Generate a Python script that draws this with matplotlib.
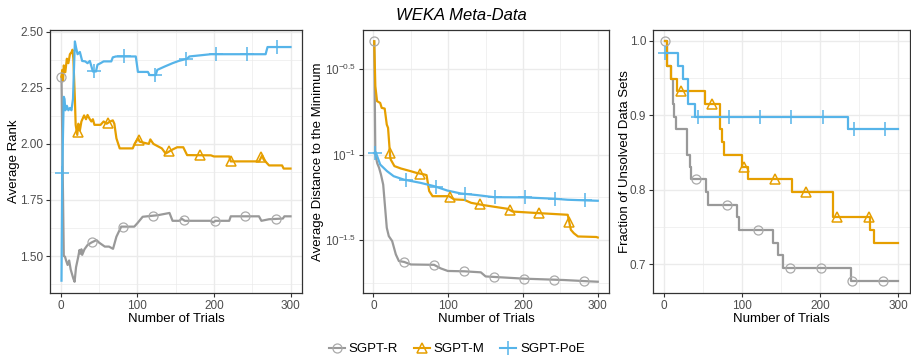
import numpy as np
import matplotlib
matplotlib.use("Agg")
import matplotlib.pyplot as plt
from matplotlib.lines import Line2D
from matplotlib.ticker import FixedLocator, NullFormatter

# ----------------------------- Data -----------------------------------------
# Panel 1: average rank (breakpoints)
rank_r_x = [1, 4, 5.6, 7, 9, 11, 13, 16.4, 18.1, 20, 22.9, 24.5, 26, 27, 28, 31, 35, 40,
            46.7, 50, 57.5, 63, 68.3, 72.7, 79, 96, 100, 107, 126.8, 139, 142, 146, 155,
            158, 162, 196, 199, 202, 220, 222, 258.8, 262, 272, 290, 292, 300]
rank_r_y = [2.30, 1.50, 1.497, 1.48, 1.46, 1.48, 1.44, 1.40, 1.385, 1.45, 1.497, 1.527, 1.51,
            1.53, 1.505, 1.53, 1.549, 1.56, 1.571, 1.56, 1.542, 1.542, 1.532, 1.586, 1.631,
            1.631, 1.646, 1.675, 1.682, 1.69, 1.692, 1.657, 1.657, 1.666, 1.657, 1.657, 1.65,
            1.657, 1.657, 1.677, 1.677, 1.657, 1.664, 1.667, 1.677, 1.677]

rank_m_x = [1, 2, 3, 4, 6, 8, 10, 12, 14.3, 15.3, 16.5, 18.5, 19.5, 21.6, 23, 25, 27, 30.5,
            33, 35, 38, 40, 42, 44, 52, 56, 60, 64.5, 68, 70, 72.7, 77, 94, 96.5, 101, 103,
            115, 117, 121, 132, 137, 146, 152, 160, 165, 196, 200, 220, 222, 259, 263, 265,
            272, 289, 291, 300]
rank_m_y = [2.30, 2.33, 2.28, 2.35, 2.32, 2.38, 2.36, 2.40, 2.41, 2.42, 2.38, 2.20, 2.085,
            2.04, 2.09, 2.06, 2.10, 2.127, 2.11, 2.129, 2.11, 2.10, 2.11, 2.085, 2.085, 2.10,
            2.09, 2.10, 2.105, 2.09, 2.025, 1.98, 1.98, 2.00, 2.025, 2.01, 2.00, 2.02, 2.00,
            1.98, 1.957, 1.975, 1.985, 1.985, 1.95, 1.949, 1.944, 1.944, 1.922, 1.922, 1.949,
            1.93, 1.904, 1.904, 1.89, 1.89]

rank_poe_x = [1, 2, 3, 4, 5, 6, 8, 10, 12, 14, 16, 18.5, 20, 22, 25, 28, 32, 35, 38, 42, 46,
              48, 52, 56, 66, 68, 72, 98, 100.8, 113.8, 116, 124, 126, 135, 146, 154, 165,
              168, 196, 267.5, 270, 300]
rank_poe_y = [1.39, 1.87, 2.05, 2.21, 2.20, 2.15, 2.17, 2.15, 2.16, 2.15, 2.20, 2.457, 2.43,
              2.40, 2.41, 2.37, 2.368, 2.36, 2.37, 2.323, 2.323, 2.353, 2.36, 2.368, 2.368,
              2.386, 2.39, 2.39, 2.321, 2.321, 2.307, 2.307, 2.33, 2.344, 2.36, 2.37, 2.38,
              2.39, 2.40, 2.40, 2.432, 2.432]

# Panel 2: average distance to the minimum, as log10 exponents
dist_r_x = [1, 2.5, 5, 7.5, 10, 13, 17.8, 20.5, 25, 29.9, 34, 41, 50, 81, 90, 99.5, 121.7,
            143.6, 150, 161.6, 201, 254.7, 290, 300]
dist_r_log = [-0.336, -0.999, -1.05, -1.077, -1.116, -1.175, -1.428, -1.477, -1.506, -1.584,
              -1.623, -1.628, -1.643, -1.645, -1.666, -1.681, -1.683, -1.689, -1.713, -1.716,
              -1.726, -1.734, -1.742, -1.744]

dist_m_x = [1, 2.5, 4.8, 9, 11, 15, 17.8, 19.5, 22.3, 23, 25.6, 28, 36.7, 50, 57, 68, 71,
            74.5, 79, 101, 108, 121.7, 130.6, 148, 179.4, 186, 219.6, 259.8, 264, 268,
            273.5, 298, 300]
dist_m_log = [-0.336, -0.599, -0.687, -0.697, -0.726, -0.73, -0.824, -0.843, -1.009, -1.028,
              -1.048, -1.067, -1.081, -1.097, -1.106, -1.116, -1.12, -1.213, -1.243, -1.243,
              -1.262, -1.265, -1.282, -1.296, -1.317, -1.333, -1.342, -1.352, -1.44, -1.46,
              -1.479, -1.482, -1.485]

dist_poe_x = [1, 3, 9, 18, 27, 40.6, 62.9, 80.8, 98.7, 116.6, 139, 161.5, 201.6, 241.8,
              259.8, 300]
dist_poe_log = [-0.99, -0.985, -1.058, -1.096, -1.126, -1.146, -1.165, -1.184, -1.21, -1.227,
                -1.237, -1.249, -1.25, -1.258, -1.264, -1.27]

# Panel 3: fraction of unsolved data sets (step starts)
frac_r_x = [1, 4, 9, 12, 13, 15, 29, 30, 33, 35, 54, 56, 94, 96, 140, 146, 153, 240, 300]
frac_r_y = [1.000, 0.966, 0.949, 0.915, 0.898, 0.881, 0.864, 0.847, 0.831, 0.814, 0.797,
            0.780, 0.763, 0.746, 0.729, 0.712, 0.695, 0.678, 0.678]

frac_m_x = [1, 4, 9, 17, 52, 72, 74, 77, 100, 108, 164, 217, 264, 269, 300]
frac_m_y = [1.000, 0.966, 0.949, 0.932, 0.915, 0.881, 0.864, 0.847, 0.831, 0.814, 0.797,
            0.763, 0.746, 0.729, 0.729]

frac_poe_x = [1, 18, 25, 31, 40, 236, 300]
frac_poe_y = [0.983, 0.966, 0.949, 0.915, 0.898, 0.881, 0.881]

# marker positions (trial numbers)
marks_r = [1, 41, 81, 121, 161, 201, 241, 281]
marks_m = [22, 62, 102, 142, 182, 222, 262]
marks_poe = [2, 43, 83, 123, 163, 203, 243, 283]

# ----------------------------- Style ----------------------------------------
C_R = "#999999"
C_M = "#E69F00"
C_POE = "#56B4E9"
GRID = "#EBEBEB"
TXT = "#4D4D4D"

plt.rcParams.update({
    "font.family": ["Liberation Sans", "DejaVu Sans"],
    "font.size": 9.5,
    "mathtext.fontset": "custom",
    "mathtext.rm": "Liberation Sans",
    "mathtext.it": "Liberation Sans:italic",
})

STYLE = {
    "r": dict(color=C_R, marker="o", ms=6.5, mfc="none", mec="#AAAAAA", mew=0.9),
    "m": dict(color=C_M, marker="^", ms=7.5, mfc="none", mec=C_M, mew=1.1),
    "poe": dict(color=C_POE, marker="+", ms=10, mfc="none", mec=C_POE, mew=1.1),
}

fig = plt.figure(figsize=(9.12, 3.58), dpi=100)
W, H = 912, 358


def add_axes(l, r, t=30, b=293):
    return fig.add_axes([l / W, 1 - b / H, (r - l) / W, (b - t) / H])


ax1 = add_axes(50, 302)
ax2 = add_axes(363, 609)
ax3 = add_axes(653, 910)


def style_axes(ax):
    ax.set_xlim(-14, 315)
    ax.xaxis.set_major_locator(FixedLocator([0, 100, 200, 300]))
    ax.xaxis.set_minor_locator(FixedLocator([50, 150, 250]))
    ax.grid(True, which="major", color=GRID, lw=1.0)
    ax.grid(True, which="minor", color=GRID, lw=0.5)
    ax.set_axisbelow(True)
    for s in ax.spines.values():
        s.set_color("#333333")
        s.set_linewidth(0.9)
    ax.tick_params(which="major", length=3, width=0.8, color="#333333",
                   labelsize=8.5, labelcolor=TXT, pad=2)
    ax.tick_params(which="minor", length=0)
    ax.set_xlabel("Number of Trials", fontsize=9.5, labelpad=1)


def draw_line(ax, x, y, marks, key):
    st = STYLE[key]
    ax.plot(x, y, color=st["color"], lw=1.6, zorder=2)
    my = np.interp(marks, x, y)
    ax.plot(marks, my, ls="none", marker=st["marker"], ms=st["ms"], mfc=st["mfc"],
            mec=st["mec"], mew=st["mew"], zorder=3)


def draw_step(ax, x, y, marks, key):
    st = STYLE[key]
    ax.step(x, y, where="post", color=st["color"], lw=1.6, zorder=2)
    idx = np.searchsorted(x, marks, side="right") - 1
    my = np.asarray(y)[idx]
    ax.plot(marks, my, ls="none", marker=st["marker"], ms=st["ms"], mfc=st["mfc"],
            mec=st["mec"], mew=st["mew"], zorder=3)


# Panel 1
style_axes(ax1)
draw_line(ax1, rank_r_x, rank_r_y, marks_r, "r")
draw_line(ax1, rank_m_x, rank_m_y, marks_m, "m")
draw_line(ax1, rank_poe_x, rank_poe_y, marks_poe, "poe")
ax1.set_ylim(1.335, 2.508)
ax1.yaxis.set_major_locator(FixedLocator([1.5, 1.75, 2.0, 2.25, 2.5]))
ax1.yaxis.set_minor_locator(FixedLocator([1.375, 1.625, 1.875, 2.125, 2.375]))
ax1.set_yticklabels(["1.50", "1.75", "2.00", "2.25", "2.50"])
ax1.set_ylabel("Average Rank", fontsize=9.5)
ax1.yaxis.set_label_coords((20 - 50) / (302 - 50), 0.5)

# Panel 2
style_axes(ax2)
ax2.set_yscale("log")
draw_line(ax2, dist_r_x, 10 ** np.array(dist_r_log), marks_r, "r")
draw_line(ax2, dist_m_x, 10 ** np.array(dist_m_log), marks_m, "m")
draw_line(ax2, dist_poe_x, 10 ** np.array(dist_poe_log), marks_poe, "poe")
ax2.set_ylim(10 ** -1.81, 10 ** -0.27)
ax2.yaxis.set_major_locator(FixedLocator(10 ** np.array([-1.5, -1.0, -0.5])))
ax2.yaxis.set_minor_locator(FixedLocator(10 ** np.array([-1.75, -1.25, -0.75])))
ax2.yaxis.set_minor_formatter(NullFormatter())
ax2.set_yticklabels([r"$10^{-1.5}$", r"$10^{-1}$", r"$10^{-0.5}$"])
ax2.set_ylabel("Average Distance to the Minimum", fontsize=9.5)
ax2.yaxis.set_label_coords((324 - 363) / (609 - 363), 0.5)

# Panel 3
style_axes(ax3)
draw_step(ax3, frac_r_x, frac_r_y, marks_r, "r")
draw_step(ax3, frac_m_x, frac_m_y, marks_m, "m")
draw_step(ax3, frac_poe_x, frac_poe_y, marks_poe, "poe")
ax3.set_ylim(0.6615, 1.0144)
ax3.yaxis.set_major_locator(FixedLocator([0.7, 0.8, 0.9, 1.0]))
ax3.yaxis.set_minor_locator(FixedLocator([0.65, 0.75, 0.85, 0.95]))
ax3.set_yticklabels(["0.7", "0.8", "0.9", "1.0"])
ax3.set_ylabel("Fraction of Unsolved Data Sets", fontsize=9.5)
ax3.yaxis.set_label_coords((631 - 653) / (910 - 653), 0.5)

fig.text(461 / W, 1 - 16 / H, "WEKA Meta-Data", ha="center", va="center",
         fontsize=12, style="italic")

handles = [
    Line2D([], [], color=C_R, lw=1.5, marker="o", ms=6.5, mfc="none", mec="#AAAAAA", mew=0.9),
    Line2D([], [], color=C_M, lw=1.5, marker="^", ms=7.5, mfc="none", mec=C_M, mew=1.1),
    Line2D([], [], color=C_POE, lw=1.5, marker="+", ms=10, mec=C_POE, mew=1.1),
]
fig.legend(handles, ["SGPT-R", "SGPT-M", "SGPT-PoE"], loc="center",
           bbox_to_anchor=(457 / W, 1 - 349 / H), ncol=3, frameon=False, fontsize=9.5,
           handlelength=1.2, handletextpad=0.3, columnspacing=1.2)

fig.savefig("out.png", dpi=100)
